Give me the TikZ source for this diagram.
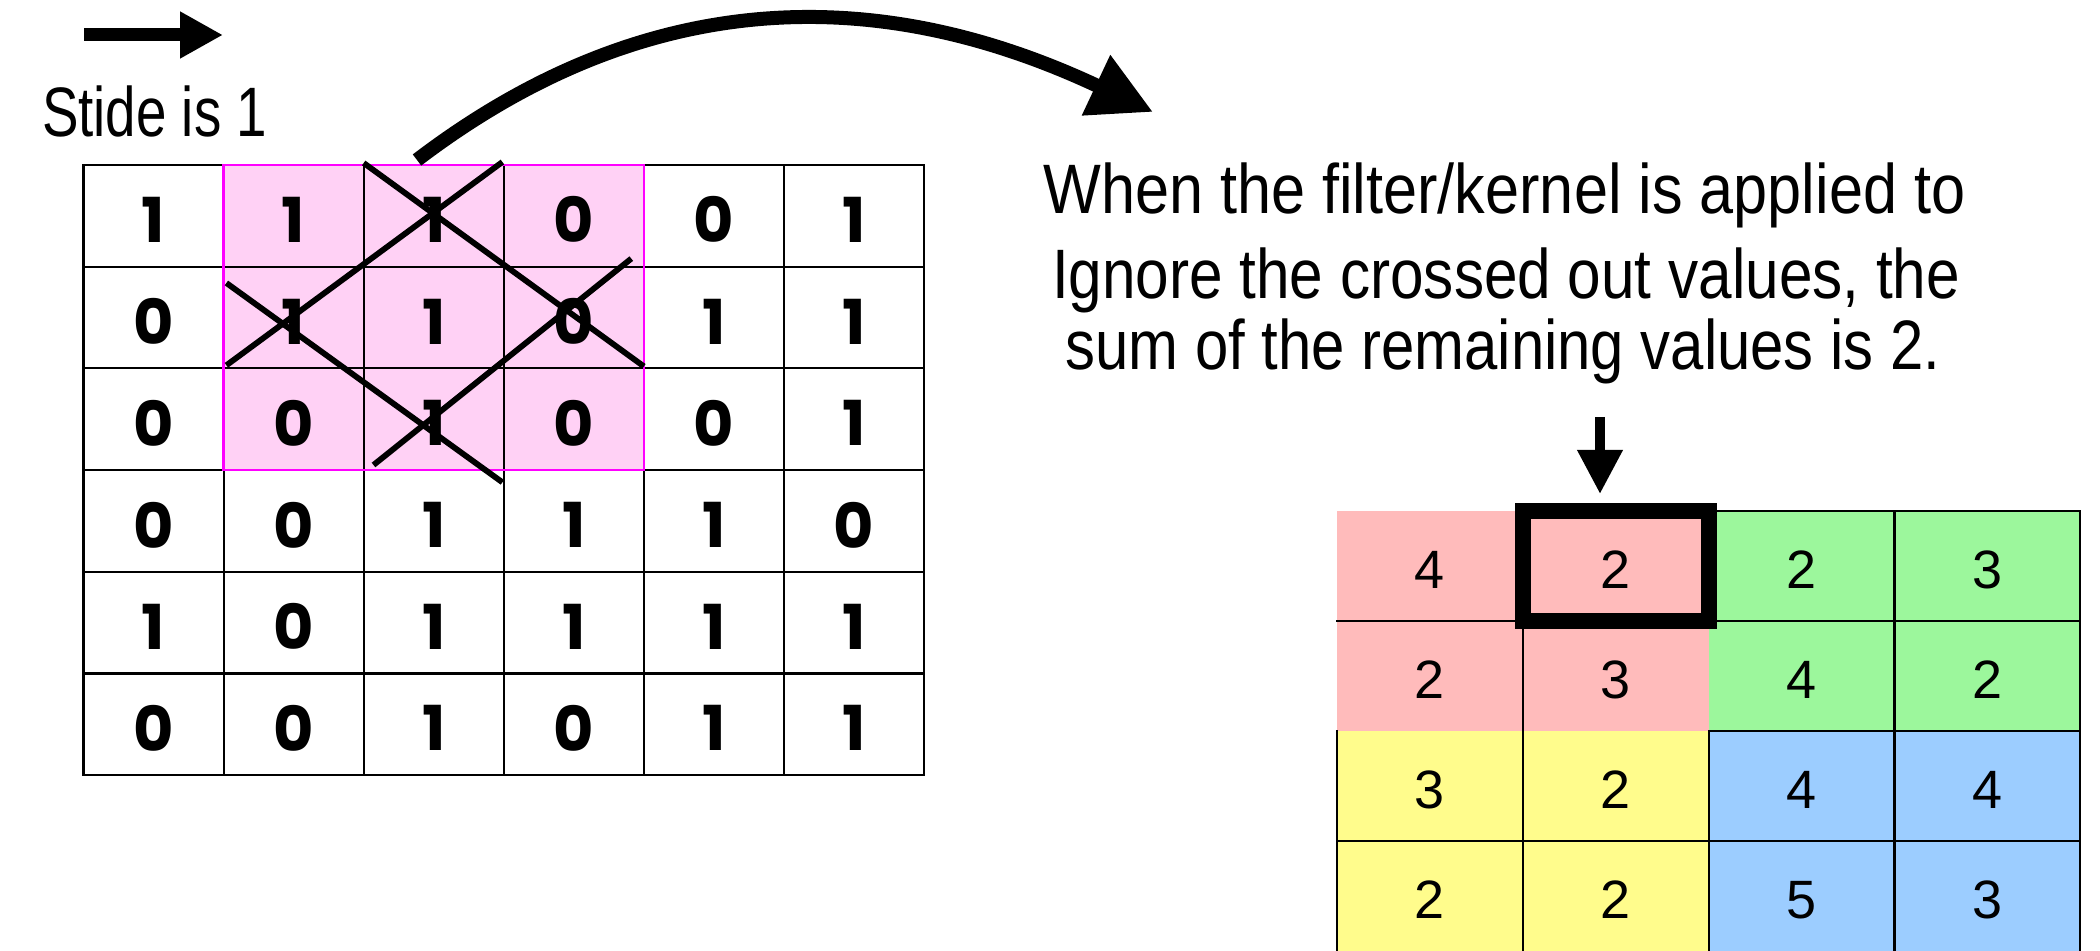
\documentclass[tikz,border=0pt]{standalone}
\usepackage{fontspec}
\usepackage{graphicx}
\usetikzlibrary{arrows.meta}
\setmainfont{Liberation Sans}
\newfontfamily\digfont{Poppins}
\definecolor{kpink}{HTML}{FFD1F5}
\definecolor{kmag}{HTML}{FF00FF}
\definecolor{opink}{HTML}{FFBBBB}
\definecolor{ogreen}{HTML}{9CF79C}
\definecolor{oyellow}{HTML}{FFFC8C}
\definecolor{oblue}{HTML}{9CCDFF}
\newcommand\fitw[2]{\sbox0{#2}\edef\fitfac{\fpeval{(#1pt)/(\the\wd0)}}\scalebox{\fitfac}[1]{\usebox0}}
\begin{document}
\begin{tikzpicture}[x=0.5pt,y=-0.5pt,
  txt/.style={inner sep=0pt, font=\fontsize{35}{42}\selectfont, anchor=base west},
  ldig/.style={inner sep=0pt, font=\digfont\bfseries\fontsize{31}{34}\selectfont},
  rdig/.style={inner sep=0pt, font=\fontsize{27}{30}\selectfont},
  gridline/.style={line width=1.1pt, black, line cap=rect},
  magline/.style={line width=1.4pt, kmag},
  crossline/.style={line width=2.9pt, black},
  thickbox/.style={line width=8pt, black},
  smallarrow/.style={line width=6.5pt, -{Triangle[length=21.5pt,width=22pt]}},
  downarrow/.style={line width=5pt, -{Triangle[length=22pt,width=21.5pt]}},
  bigarrow/.style={line width=7pt, -{Triangle[length=31.5pt,width=31.5pt]}}
]
\useasboundingbox (0,0) rectangle (2100,951);
\fill[white] (0,0) rectangle (2100,951);

% ---------- left grid ----------
\def\lx{83.5}\def\lw{140.1}\def\ly{165}\def\lh{101.7}
\fill[kpink] (\lx+\lw,\ly) rectangle (\lx+4*\lw,\ly+3*\lh);
\foreach \i in {0,...,6} {
  \draw[gridline] (\lx+\i*\lw,\ly) -- (\lx+\i*\lw,\ly+6*\lh);
  \draw[gridline] (\lx,\ly+\i*\lh) -- (\lx+6*\lw,\ly+\i*\lh);
}
\draw[magline] (\lx+\lw,\ly) rectangle (\lx+4*\lw,\ly+3*\lh);
\foreach \row [count=\r from 0] in {{1,1,1,0,0,1},{0,1,1,0,1,1},{0,0,1,0,0,1},{0,0,1,1,1,0},{1,0,1,1,1,1},{0,0,1,0,1,1}} {
  \foreach \v [count=\c from 0] in \row {
    \node[ldig] (L-\r-\c) at (\lx+\c*\lw+0.5*\lw, \ly+\r*\lh+0.5*\lh+4) {\v};
  }
}
% crosses
\draw[crossline] (363.7,163) -- (643.9,366.4);
\draw[crossline] (502.4,162) -- (226.4,365.3);
\draw[crossline] (226.4,283) -- (502.4,482.3);
\draw[crossline] (631.3,258.6) -- (373.5,465);

% ---------- texts ----------
\node[txt] (stride) at (41.7,136.7) {\fitw{112.5}{Stide is 1}};
\node[txt] (t1) at (1043,214) {\fitw{461}{When the filter/kernel is applied to}};
\node[txt] (t2) at (1051.7,298.5) {\fitw{454}{Ignore the crossed out values, the}};
\node[txt] (t3) at (1065,370) {\fitw{437.5}{sum of the remaining values is 2.}};

% ---------- arrows ----------
\coordinate (s0) at (84,35); \coordinate (s1) at (223,35);
\draw[smallarrow] (s0) -- (s1);
\coordinate (b0) at (417,160); \coordinate (b1) at (1153,112);
\draw[bigarrow] (b0) .. controls (677,-38) and (919,2) .. (b1);
\coordinate (d0) at (1600,417); \coordinate (d1) at (1600,494);
\draw[downarrow] (d0) -- (d1);

% ---------- right grid ----------
\def\rx{1337}\def\rw{185.8}\def\ry{511}\def\rh{110}
\fill[opink] (\rx,\ry) rectangle (\rx+2*\rw,\ry+2*\rh);
\fill[ogreen] (\rx+2*\rw,\ry) rectangle (\rx+4*\rw,\ry+2*\rh);
\fill[oyellow] (\rx,\ry+2*\rh) rectangle (\rx+2*\rw,951);
\fill[oblue] (\rx+2*\rw,\ry+2*\rh) rectangle (\rx+4*\rw,951);
\draw[gridline] (\rx,\ry+\rh) -- (\rx+\rw,\ry+\rh);
\draw[gridline] (\rx+2*\rw,\ry) -- (\rx+4*\rw,\ry);
\draw[gridline] (\rx+2*\rw,\ry+\rh) -- (\rx+4*\rw,\ry+\rh);
\draw[gridline] (\rx+2*\rw,\ry+2*\rh) -- (\rx+4*\rw,\ry+2*\rh);
\draw[gridline] (\rx,\ry+3*\rh) -- (\rx+4*\rw,\ry+3*\rh);
\draw[gridline] (\rx,\ry+2*\rh) -- (\rx,960);
\draw[gridline] (\rx+\rw,\ry+\rh) -- (\rx+\rw,960);
\draw[gridline] (\rx+2*\rw,\ry+2*\rh) -- (\rx+2*\rw,960);
\draw[gridline] (\rx+3*\rw,\ry) -- (\rx+3*\rw,960);
\draw[gridline] (\rx+4*\rw,\ry) -- (\rx+4*\rw,960);
\draw[thickbox] (\rx+\rw,\ry) rectangle (\rx+2*\rw,\ry+\rh);
\foreach \row [count=\r from 0] in {{4,2,2,3},{2,3,4,2},{3,2,4,4},{2,2,5,3}} {
  \foreach \v [count=\c from 0] in \row {
    \node[rdig] (R-\r-\c) at (\rx+\c*\rw+0.5*\rw, \ry+\r*\rh+0.5*\rh+4) {\v};
  }
}
\end{tikzpicture}
\end{document}
